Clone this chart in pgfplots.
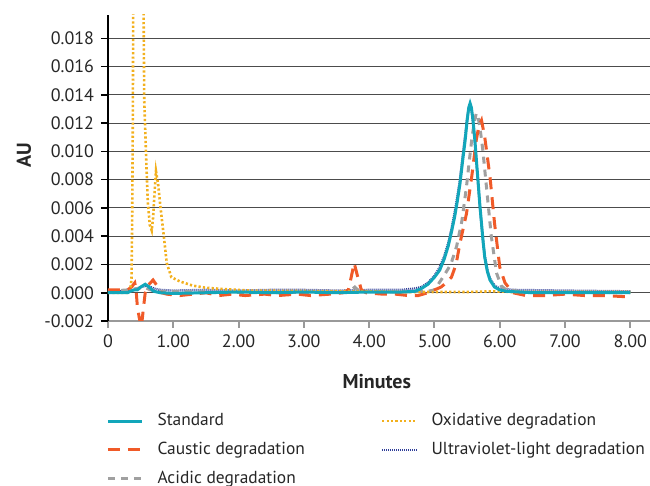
\documentclass[border=0pt]{standalone}
\usepackage{fontspec}
\setmainfont{PT Sans}
\usepackage{pgfplots}
\pgfplotsset{compat=1.18}

\definecolor{stdteal}{HTML}{12A6BA}
\definecolor{caustic}{HTML}{F05A28}
\definecolor{acidic}{HTML}{A0A0A0}
\definecolor{oxid}{HTML}{F2B01E}
\definecolor{uvblue}{HTML}{2E3D98}

\pgfplotsset{
  standard/.style={stdteal, line width=1.5pt},
  causticst/.style={caustic, line width=1.5pt, dash pattern=on 6pt off 4pt},
  acidicst/.style={acidic, line width=1.5pt, dash pattern=on 3.5pt off 3pt},
  oxidst/.style={oxid, line width=1.3pt, dash pattern=on 1.1pt off 1.1pt},
  uvst/.style={uvblue, line width=1.2pt, dash pattern=on 0.5pt off 0.5pt},
}

\begin{document}
\begin{tikzpicture}
\path[use as bounding box] (-54pt,-82.5pt) rectangle (271pt,160.5pt);
\begin{axis}[
    scale only axis,
    width=271pt, height=153pt,
    xmin=0, xmax=8.3,
    ymin=-0.002, ymax=0.01965,
    axis x line=bottom, axis y line=left,
    axis line style={-},
    x axis line style={black!40, line width=1pt},
    y axis line style={black, line width=1pt},
    xtick={0,1,2,3,4,5,6,7,8},
    xticklabels={0,1.00,2.00,3.00,4.00,5.00,6.00,7.00,8.00},
    ytick={-0.002,0,0.002,0.004,0.006,0.008,0.010,0.012,0.014,0.016,0.018},
    yticklabels={-0.002,0.000,0.002,0.004,0.006,0.008,0.010,0.012,0.014,0.016,0.018},
    scaled y ticks=false,
    scaled x ticks=false,
    tick align=outside,
    major tick length=3.5pt,
    xtick style={black!40, line width=1pt},
    ytick style={black, line width=0.8pt},
    ymajorgrids,
    major grid style={black!70, line width=0.5pt},
    tick label style={font=\fontsize{9}{10}\selectfont, text=black!85},
    xlabel={\bfseries Minutes},
    ylabel={\bfseries AU},
    label style={font=\fontsize{10}{11}\selectfont, text=black!85},
    xlabel style={at={(axis description cs:0.496,-0.199)}, anchor=center},
    ylabel style={at={(axis description cs:-0.155,0.542)}, anchor=center},
    legend columns=2,
    legend cell align=left,
    legend style={
        at={(axis description cs:0,0)}, anchor=north west,
        xshift=-1pt, yshift=-44pt,
        draw=none, fill=none, inner sep=0pt,
        font=\fontsize{8.7}{10}\selectfont,
        text=black!85,
        row sep=2.7pt,
        /tikz/every even column/.append style={column sep=36pt},
        /tikz/every odd column/.append style={column sep=5pt},
    },
]

% legend entries (row-wise order for two columns)
\addlegendimage{standard}
\addlegendentry{Standard}
\addlegendimage{oxidst}
\addlegendentry{Oxidative degradation}
\addlegendimage{causticst}
\addlegendentry{Caustic degradation}
\addlegendimage{uvst}
\addlegendentry{Ultraviolet-light degradation}
\addlegendimage{acidicst}
\addlegendentry{Acidic degradation}

% Ultraviolet-light degradation
\addplot[uvst, forget plot] coordinates {
(0,0.0001) (0.30,0.0001) (0.40,0.0002) (0.50,0.0004) (0.60,0.0005)
(0.70,0.0003) (0.80,0.0002) (1.00,0.00015) (1.50,0.0002) (2.00,0.00015)
(2.50,0.0002) (3.00,0.0002) (3.50,0.00015) (4.00,0.0002) (4.50,0.0002)
(4.70,0.0003) (4.80,0.0004) (4.90,0.0007) (5.00,0.0012) (5.08,0.0018)
(5.15,0.0026) (5.21,0.0035) (5.26,0.0045) (5.31,0.0057) (5.35,0.0068)
(5.39,0.0080) (5.43,0.0096) (5.47,0.0111) (5.50,0.0123) (5.525,0.0131)
(5.545,0.0133) (5.565,0.0130) (5.59,0.0121) (5.62,0.0106) (5.645,0.0091)
(5.67,0.0076) (5.695,0.0061) (5.72,0.0048) (5.745,0.0036) (5.77,0.0026)
(5.81,0.0016) (5.85,0.0010) (5.92,0.0005) (6.00,0.0003) (6.20,0.0002)
(7.00,0.00015) (8.00,0.0001)
};

% Acidic degradation
\addplot[acidicst, forget plot] coordinates {
(0,0.0001) (0.30,0.0002) (0.45,0.0003) (0.55,0.0004) (0.65,0.0002)
(0.80,0.0001) (1.50,0.00005) (2.50,0.0000) (3.50,0.00005) (3.70,0.0001)
(3.78,0.0004) (3.85,0.0001) (4.50,0.00005) (4.90,0.0001) (5.00,0.0002)
(5.13,0.0011) (5.25,0.0020) (5.34,0.0033) (5.42,0.0051) (5.49,0.0075)
(5.53,0.0092) (5.57,0.0108) (5.61,0.0121) (5.64,0.0127) (5.67,0.0124)
(5.71,0.0112) (5.74,0.0101) (5.80,0.0073) (5.87,0.0040) (5.95,0.0014)
(6.02,0.0005) (6.10,0.0002) (6.50,0.0000) (7.00,0.00005) (8.00,0.0000)
};

% Caustic degradation
\addplot[causticst, forget plot] coordinates {
(0,0.0002) (0.30,0.0002) (0.36,0.0004) (0.41,0.0007) (0.43,0.0002)
(0.45,-0.0010) (0.48,-0.0018) (0.51,-0.0025) (0.54,-0.0012) (0.57,0.0000)
(0.63,0.0006) (0.69,0.0009) (0.75,0.0005) (0.82,0.0000) (0.90,-0.0001)
(1.10,-0.0002) (1.30,-0.0001) (1.50,0.0000) (1.70,-0.0002) (1.90,-0.0001)
(2.10,-0.0002) (2.40,-0.0001) (2.60,-0.0002) (2.90,-0.0001) (3.10,-0.0002)
(3.40,-0.0001) (3.60,0.0000) (3.68,0.0002) (3.72,0.0010) (3.77,0.0021)
(3.82,0.0012) (3.88,0.0002) (3.95,0.0000) (4.20,-0.0001) (4.40,-0.0001)
(4.60,-0.0002) (4.75,-0.0002) (4.90,0.0000) (5.00,0.0002) (5.10,0.0004)
(5.18,0.0007) (5.26,0.0011) (5.33,0.0020) (5.39,0.0035) (5.49,0.0056)
(5.57,0.0082) (5.64,0.0108) (5.68,0.0118) (5.72,0.0122) (5.77,0.0110)
(5.85,0.0082) (5.92,0.0049) (6.00,0.0018) (6.08,0.0007) (6.20,0.0000)
(6.40,-0.0002) (6.70,-0.0002) (7.00,-0.0001) (7.30,-0.0002) (7.60,-0.0002)
(8.00,-0.0003)
};

% Oxidative degradation
\addplot[oxidst, forget plot] coordinates {
(0,0.0000) (0.30,0.0000) (0.34,0.0001) (0.36,0.0010) (0.37,0.0050)
(0.38,0.0120) (0.39,0.0250) (0.53,0.0250) (0.545,0.0200) (0.555,0.0136)
(0.59,0.0088) (0.61,0.0064) (0.64,0.0048) (0.67,0.0044) (0.69,0.0053)
(0.72,0.0076) (0.735,0.0086) (0.77,0.0076) (0.80,0.0062) (0.85,0.0042)
(0.90,0.0021) (0.97,0.0011) (1.10,0.0008) (1.30,0.0005) (1.50,0.00035)
(1.80,0.00025) (2.20,0.00015) (3.00,0.00012) (4.00,0.0001) (4.50,0.00005)
(5.00,0.00005) (5.50,0.00005) (5.90,0.0001) (6.20,0.00005) (7.00,0.00005)
(8.00,0.00005)
};

% Standard
\addplot[standard, forget plot] coordinates {
(0,0.0000) (0.30,0.0000) (0.34,0.0001) (0.40,0.0002) (0.45,0.0002)
(0.50,0.0004) (0.57,0.0006) (0.63,0.0004) (0.70,0.0001) (0.80,0.0000)
(1.00,-0.00005) (1.50,0.0000) (2.00,0.00005) (2.50,0.0000) (3.00,0.00005)
(3.50,0.0000) (4.00,0.00005) (4.50,0.00005) (4.70,0.0001) (4.80,0.0003)
(4.90,0.0006) (5.00,0.0011) (5.08,0.0016) (5.15,0.0024) (5.21,0.0033)
(5.26,0.0043) (5.31,0.0054) (5.35,0.0065) (5.39,0.0077) (5.43,0.0093)
(5.47,0.0108) (5.50,0.0122) (5.525,0.0131) (5.545,0.0134) (5.565,0.0131)
(5.59,0.0122) (5.62,0.0107) (5.645,0.0092) (5.67,0.0077) (5.695,0.0062)
(5.72,0.0049) (5.745,0.0036) (5.77,0.0025) (5.81,0.0015) (5.85,0.0009)
(5.92,0.0004) (6.00,0.0002) (6.10,0.0001) (6.50,0.0000) (7.00,0.0000)
(8.00,0.0000)
};

\end{axis}
\end{tikzpicture}
\end{document}
